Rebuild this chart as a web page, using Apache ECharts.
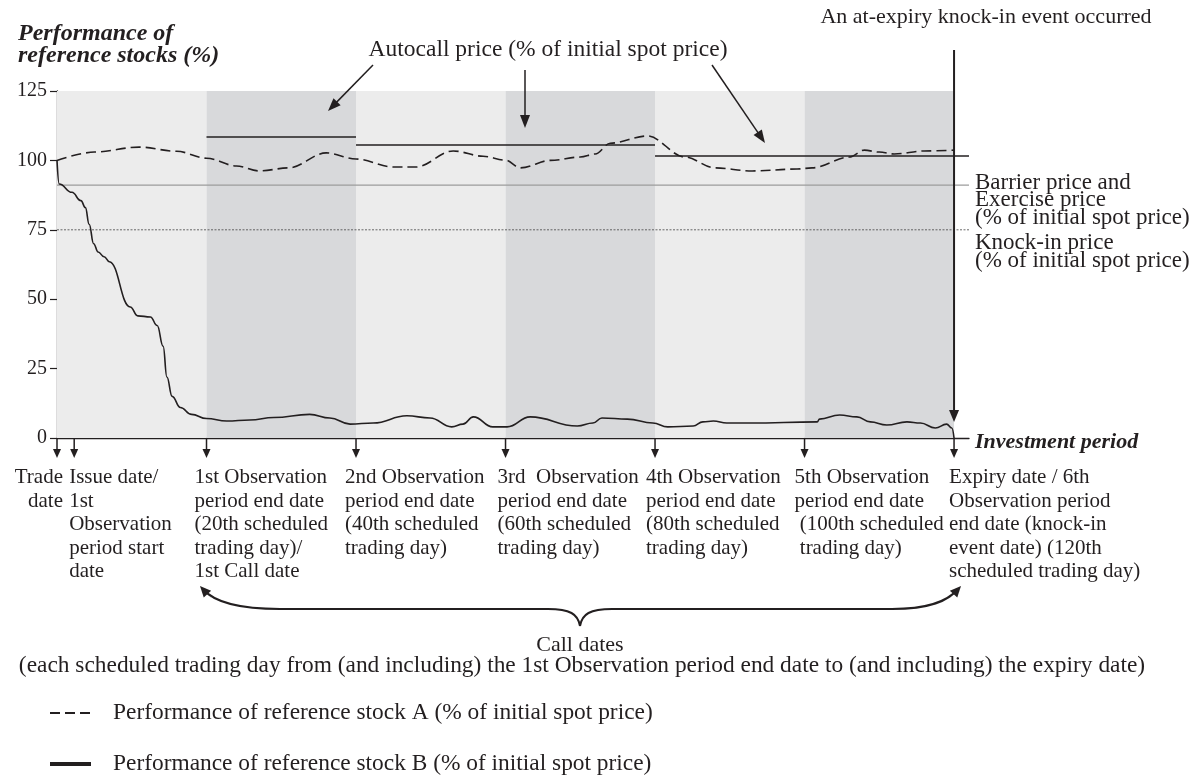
<!DOCTYPE html>
<html>
<head>
<meta charset="utf-8">
<script src="https://cdn.jsdelivr.net/npm/echarts@6/dist/echarts.min.js"></script>
<style>
  html, body { margin: 0; padding: 0; background: #fff; }
  #main { width: 1194px; height: 776px; }
</style>
</head>
<body>
<div id="main"></div>
<script>
// ---- data ----
var yTicks = [0, 25, 50, 75, 100, 125];

// performance of reference stock A (dashed), [trading day, %]
var stockADays = [0, 5, 11, 16, 20, 24, 27, 31, 36, 40, 45, 48, 53, 57, 60, 62, 66, 70, 72, 74, 79, 84, 88, 93, 99, 101, 106, 108, 110, 112, 116, 120];
var stockAValues = [100, 103, 104.8, 103.3, 100.8, 98, 96.2, 97.3, 102.7, 100.5, 97.6, 97.6, 103.4, 101.5, 100.1, 97.3, 100, 101.2, 102.3, 106.2, 108.8, 101.2, 97.3, 96.2, 96.9, 97.3, 101.2, 103.7, 103, 102.3, 103.4, 103.7];

// performance of reference stock B (solid)
var stockBDays = [0, 0.3, 2, 3.2, 3.8, 4.3, 4.9, 5.5, 6.3, 7, 9.8, 10.8, 12.5, 13.4, 14.2, 14.7, 15.4, 16.5, 18, 20, 22.7, 25.8, 29, 33.8, 36.5, 39.2, 42.3, 46.8, 49.9, 52.8, 54.3, 55.7, 58.3, 60.2, 63.3, 69.6, 71.7, 72.9, 76.3, 79.7, 81.7, 85.1, 86.4, 87.8, 89.6, 92.7, 101.7, 102, 104.7, 107, 108.8, 111, 113.7, 115.5, 117.5, 119, 119.7, 120];
var stockBValues = [100, 91.5, 88.5, 85.5, 83, 77, 70, 67, 65.3, 63.5, 47.2, 44, 43.6, 40.5, 33, 22, 15, 11, 8.5, 7, 6.1, 6.5, 7.4, 8.5, 7.2, 5, 5.4, 8, 7.2, 4, 5, 7.6, 4, 4, 7.6, 4.3, 5.4, 7.2, 6.8, 5.4, 4, 4.3, 5.8, 6.1, 5.4, 5.4, 5.8, 6.8, 8.3, 7.6, 5.8, 4.7, 5.8, 5.4, 3.6, 5, 3.6, 0];

var bandPeriods = [[0, 20], [20, 40], [40, 60], [60, 80], [80, 100], [100, 120]];
var autocallPeriods = [[20, 40], [40, 80], [80, 122]];
var autocallLevels = [108.4, 105.5, 101.6];
var barrierLevel = 91.1;
var knockInLevel = 75;
var levelSpan = [0, 122];

var eventDays = [0, 2.3, 20, 40, 60, 80, 100, 120];
var eventLabels = [
  'Trade\ndate',
  'Issue date/\n1st\nObservation\nperiod start\ndate',
  '1st Observation\nperiod end date\n(20th scheduled\ntrading day)/\n1st Call date',
  '2nd Observation\nperiod end date\n(40th scheduled\ntrading day)',
  '3rd  Observation\nperiod end date\n(60th scheduled\ntrading day)',
  '4th Observation\nperiod end date\n(80th scheduled\ntrading day)',
  '5th Observation\nperiod end date\n (100th scheduled\n trading day)',
  'Expiry date / 6th\nObservation period\nend date (knock-in\nevent date) (120th\nscheduled trading day)'
];
var nameA = 'Performance of reference stock A (% of initial spot price)';
var nameB = 'Performance of reference stock B (% of initial spot price)';

// ---- layout ----
var FONT = "'Liberation Serif', 'Times New Roman', serif";
var INK = '#231f20';
var labelShift = [6, -5, -12, -11, -8, -9, -10, -5];

function pairs(xs, ys) {
  return xs.map(function (x, i) { return [x, ys[i]]; });
}

var myChart = echarts.init(document.getElementById('main'));

var option = {
  backgroundColor: '#ffffff',
  animation: false,
  grid: { left: 57, right: 225, top: 91, bottom: 338 },
  xAxis: {
    type: 'value', min: 0, max: levelSpan[1],
    axisLine: { show: true, lineStyle: { color: INK, width: 1.3 } },
    axisTick: { show: false }, axisLabel: { show: false }, splitLine: { show: false }
  },
  yAxis: {
    type: 'value', min: yTicks[0], max: yTicks[yTicks.length - 1], interval: 25,
    axisLine: { show: true, lineStyle: { color: INK, width: 1.3 } },
    axisTick: { show: true, length: 7, lineStyle: { color: INK, width: 1.2 } },
    axisLabel: { margin: 10, color: INK, fontFamily: FONT, fontSize: 20 },
    splitLine: { show: false }
  },
  series: [
    {
      name: 'barrier', type: 'line', symbol: 'none', silent: true, z: 1,
      data: levelSpan.map(function (d) { return [d, barrierLevel]; }),
      lineStyle: { color: '#9c9c9c', width: 1.2 },
      markArea: {
        silent: true,
        data: bandPeriods.map(function (p, i) {
          return [{ xAxis: p[0], itemStyle: { color: i % 2 ? '#d8d9db' : '#ececec' } }, { xAxis: p[1] }];
        })
      }
    },
    {
      name: 'knockin', type: 'line', symbol: 'none', silent: true, z: 2,
      data: levelSpan.map(function (d) { return [d, knockInLevel]; }),
      lineStyle: { color: '#444', width: 0.8, type: [2, 1.5] },
      markLine: {
        silent: true, symbol: ['none', 'none'], label: { show: false },
        lineStyle: { color: INK, width: 1.5, type: 'solid' },
        data: autocallPeriods.map(function (p, i) {
          return [{ coord: [p[0], autocallLevels[i]] }, { coord: [p[1], autocallLevels[i]] }];
        })
      }
    },
    {
      name: nameA, type: 'line', symbol: 'none', smooth: 0.35, smoothMonotone: 'x', z: 3,
      data: pairs(stockADays, stockAValues),
      lineStyle: { color: INK, width: 1.6, type: [10, 5] }
    },
    {
      name: nameB, type: 'line', symbol: 'none', smooth: 0.45, smoothMonotone: 'x', z: 3,
      data: pairs(stockBDays, stockBValues),
      lineStyle: { color: INK, width: 1.6 }
    }
  ]
};

myChart.setOption(option);

// ---- annotations ----
function px(d, v) { return myChart.convertToPixel({ gridIndex: 0 }, [d, v]); }

function arrow(x1, y1, x2, y2, len, half, lw) {
  var dx = x2 - x1, dy = y2 - y1, L = Math.sqrt(dx * dx + dy * dy);
  var ux = dx / L, uy = dy / L;
  var bx = x2 - ux * len, by = y2 - uy * len;
  return [
    { type: 'line', z: 100, shape: { x1: x1, y1: y1, x2: bx + ux * 2, y2: by + uy * 2 }, style: { stroke: INK, lineWidth: lw } },
    { type: 'polygon', z: 100, shape: { points: [[x2, y2], [bx - uy * half, by + ux * half], [bx + uy * half, by - ux * half]] }, style: { fill: INK } }
  ];
}

function text(x, y, str, extra) {
  var s = { text: str, fontFamily: FONT, fontSize: 20, fill: INK, textAlign: 'left', textVerticalAlign: 'middle' };
  for (var k in extra) s[k] = extra[k];
  return { type: 'text', z: 100, x: x, y: y, style: s };
}

var g = [];

// date arrows under the axis and their labels
eventDays.forEach(function (d, i) {
  var p = px(d, 0);
  g = g.concat(arrow(p[0], p[1] + 1, p[0], p[1] + 20, 9, 4, 1.5));
  g.push(text(p[0] + labelShift[i], 466, eventLabels[i], {
    fontSize: 21, lineHeight: 23.5, textVerticalAlign: 'top', textAlign: i === 0 ? 'right' : 'left'
  }));
});

// at-expiry knock-in arrow
var ex = px(120, 5.8);
g = g.concat(arrow(ex[0], 50, ex[0], ex[1], 12, 5, 2));
g.push(text(986, 17, 'An at-expiry knock-in event occurred', { fontSize: 22, textAlign: 'center' }));

// autocall annotation
g.push(text(548, 50, 'Autocall price (% of initial spot price)', { fontSize: 23.5, textAlign: 'center' }));
g = g.concat(arrow(373, 65, 328, 111, 13, 5, 1.5));
g = g.concat(arrow(525, 70, 525, 128, 13, 5, 1.5));
g = g.concat(arrow(712, 65, 765, 143, 13, 5, 1.5));

// level labels on the right
g.push(text(975, 200, 'Barrier price and\nExercise price\n(% of initial spot price)', { fontSize: 23, lineHeight: 17.5 }));
g.push(text(975, 252, 'Knock-in price\n(% of initial spot price)', { fontSize: 23, lineHeight: 17.5 }));

// axis titles
g.push(text(18, 23, 'Performance of\nreference stocks (%)', {
  fontSize: 24, lineHeight: 22, fontStyle: 'italic', fontWeight: 'bold', textVerticalAlign: 'top'
}));
g.push(text(975, 442, 'Investment period', { fontSize: 22, fontStyle: 'italic', fontWeight: 'bold' }));

// call dates brace
var braceStyle = { stroke: INK, lineWidth: 2, fill: null };
g.push({ type: 'bezierCurve', z: 100, shape: { x1: 203, y1: 589, cpx1: 213, cpy1: 601, cpx2: 235, cpy2: 609, x2: 280, y2: 609 }, style: braceStyle });
g.push({ type: 'line', z: 100, shape: { x1: 280, y1: 609, x2: 548, y2: 609 }, style: braceStyle });
g.push({ type: 'bezierCurve', z: 100, shape: { x1: 548, y1: 609, cpx1: 570, cpy1: 609, cpx2: 578, cpy2: 614, x2: 580, y2: 626 }, style: braceStyle });
g.push({ type: 'bezierCurve', z: 100, shape: { x1: 580, y1: 626, cpx1: 582, cpy1: 614, cpx2: 590, cpy2: 609, x2: 612, y2: 609 }, style: braceStyle });
g.push({ type: 'line', z: 100, shape: { x1: 612, y1: 609, x2: 892, y2: 609 }, style: braceStyle });
g.push({ type: 'bezierCurve', z: 100, shape: { x1: 892, y1: 609, cpx1: 930, cpy1: 609, cpx2: 948, cpy2: 601, x2: 958, y2: 589 }, style: braceStyle });
g = g.concat(arrow(211, 598, 200, 586, 11, 5, 0.1));
g = g.concat(arrow(950, 598, 961, 586, 11, 5, 0.1));
g.push(text(580, 645, 'Call dates', { fontSize: 22, textAlign: 'center' }));
g.push(text(582, 666, '(each scheduled trading day from (and including) the 1st Observation period end date to (and including) the expiry date)', { fontSize: 23.4, textAlign: 'center' }));

// legend for the two stocks
g.push({ type: 'line', z: 100, shape: { x1: 50, y1: 713, x2: 91, y2: 713 }, style: { stroke: INK, lineWidth: 2, lineDash: [10, 5] } });
g.push(text(113, 713, nameA, { fontSize: 23.4 }));
g.push({ type: 'line', z: 100, shape: { x1: 50, y1: 764, x2: 91, y2: 764 }, style: { stroke: INK, lineWidth: 4 } });
g.push(text(113, 764, nameB, { fontSize: 23.4 }));

myChart.setOption({ graphic: g });
</script>
</body>
</html>
